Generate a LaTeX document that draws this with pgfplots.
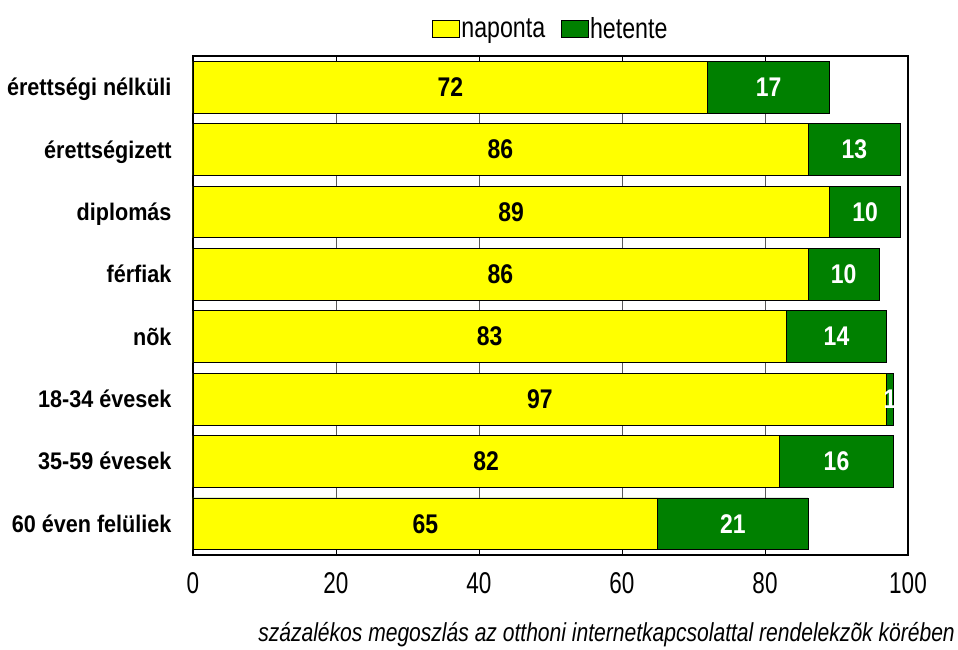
\documentclass[border=0pt]{standalone}
\usepackage{fontspec}
\setmainfont{Liberation Sans}
\newfontfamily\catfont[FakeStretch=0.9]{Liberation Sans}
\newfontfamily\tickfont[FakeStretch=0.75]{Liberation Sans}
\newfontfamily\legfont[FakeStretch=0.8]{Liberation Sans}
\newfontfamily\valfont[FakeStretch=0.85]{Liberation Sans}
\newfontfamily\notefont[FakeStretch=0.81]{Liberation Sans}
\usepackage{pgfplots}
\usepackage{pgfplotstable}
\pgfplotsset{compat=1.18}
\definecolor{cyellow}{RGB}{255,255,0}
\definecolor{cgreen}{RGB}{0,128,0}

\pgfplotstableread{
y n h
0 72 17
1 86 13
2 89 10
3 86 10
4 83 14
5 97 1
6 82 16
7 65 21
}\datatable

\begin{document}
\begin{tikzpicture}
\begin{axis}[
  scale only axis, width=715bp, height=499bp,
  xmin=0, xmax=100, ymin=-0.5, ymax=7.5, y dir=reverse,
  xtick={0,20,40,60,80,100}, xtick pos=both, tick align=inside,
  major tick length=5bp,
  x tick style={line width=0.8bp, black},
  xmajorgrids=true,
  major grid style={black!65, line width=0.8bp},
  ytick={0,1,2,3,4,5,6,7},
  yticklabels={érettségi nélküli, érettségizett, diplomás, férfiak, nõk, 18-34 évesek, 35-59 évesek, 60 éven felüliek},
  ytick style={draw=none},
  /pgf/number format/assume math mode=true,
  xticklabel style={font=\tickfont\fontsize{30bp}{32bp}\selectfont, yshift=-14bp},
  yticklabel style={font=\catfont\bfseries\fontsize{24bp}{26bp}\selectfont, anchor=base east, xshift=-18bp, yshift=-8.5bp},
  axis line style={line width=1.2bp},
  bar width=0.83,
  legend style={at={(0.5,1)}, anchor=south, yshift=12bp, draw=none, fill=none,
    font=\legfont\fontsize{29bp}{31bp}\selectfont, legend columns=2,
    nodes={inner sep=1.5bp},
    /tikz/every even column/.append style={column sep=14bp}},
]
\addlegendimage{legend image code/.code={\draw[fill=cyellow,draw=black,line width=0.8bp] (0bp,-8.5bp) rectangle (27bp,8.5bp);}}
\addlegendentry{naponta}
\addlegendimage{legend image code/.code={\draw[fill=cgreen,draw=black,line width=0.8bp] (0bp,-8.5bp) rectangle (27bp,8.5bp);}}
\addlegendentry{hetente}
\addplot[xbar, fill=cgreen, draw=black, line width=0.8bp, forget plot]
  table[x expr=\thisrow{n}+\thisrow{h}, y=y] {\datatable};
\addplot[xbar, fill=cyellow, draw=black, line width=0.8bp, forget plot]
  table[x=n, y=y] {\datatable};
\addplot[draw=none, mark=none, forget plot, nodes near coords, point meta=explicit symbolic,
  every node near coord/.append style={anchor=center, text=black, font=\valfont\bfseries\fontsize{27bp}{29bp}\selectfont}]
  table[x expr=\thisrow{n}/2, y=y, meta=n] {\datatable};
\addplot[draw=none, mark=none, forget plot, nodes near coords, point meta=explicit symbolic,
  every node near coord/.append style={anchor=center, text=white, font=\valfont\bfseries\fontsize{27bp}{29bp}\selectfont}]
  table[x expr=\thisrow{n}+\thisrow{h}/2, y=y, meta=h] {\datatable};
\end{axis}
\path (current axis.south west) ++(-193bp,-95bp) rectangle ++(958bp,650bp);
\node[anchor=east, inner sep=0pt, font=\notefont\itshape\fontsize{26bp}{28bp}\selectfont]
  at ([shift={(47bp,-80bp)}]current axis.south east) {százalékos megoszlás az otthoni internetkapcsolattal rendelekzõk körében};
\end{tikzpicture}
\end{document}
